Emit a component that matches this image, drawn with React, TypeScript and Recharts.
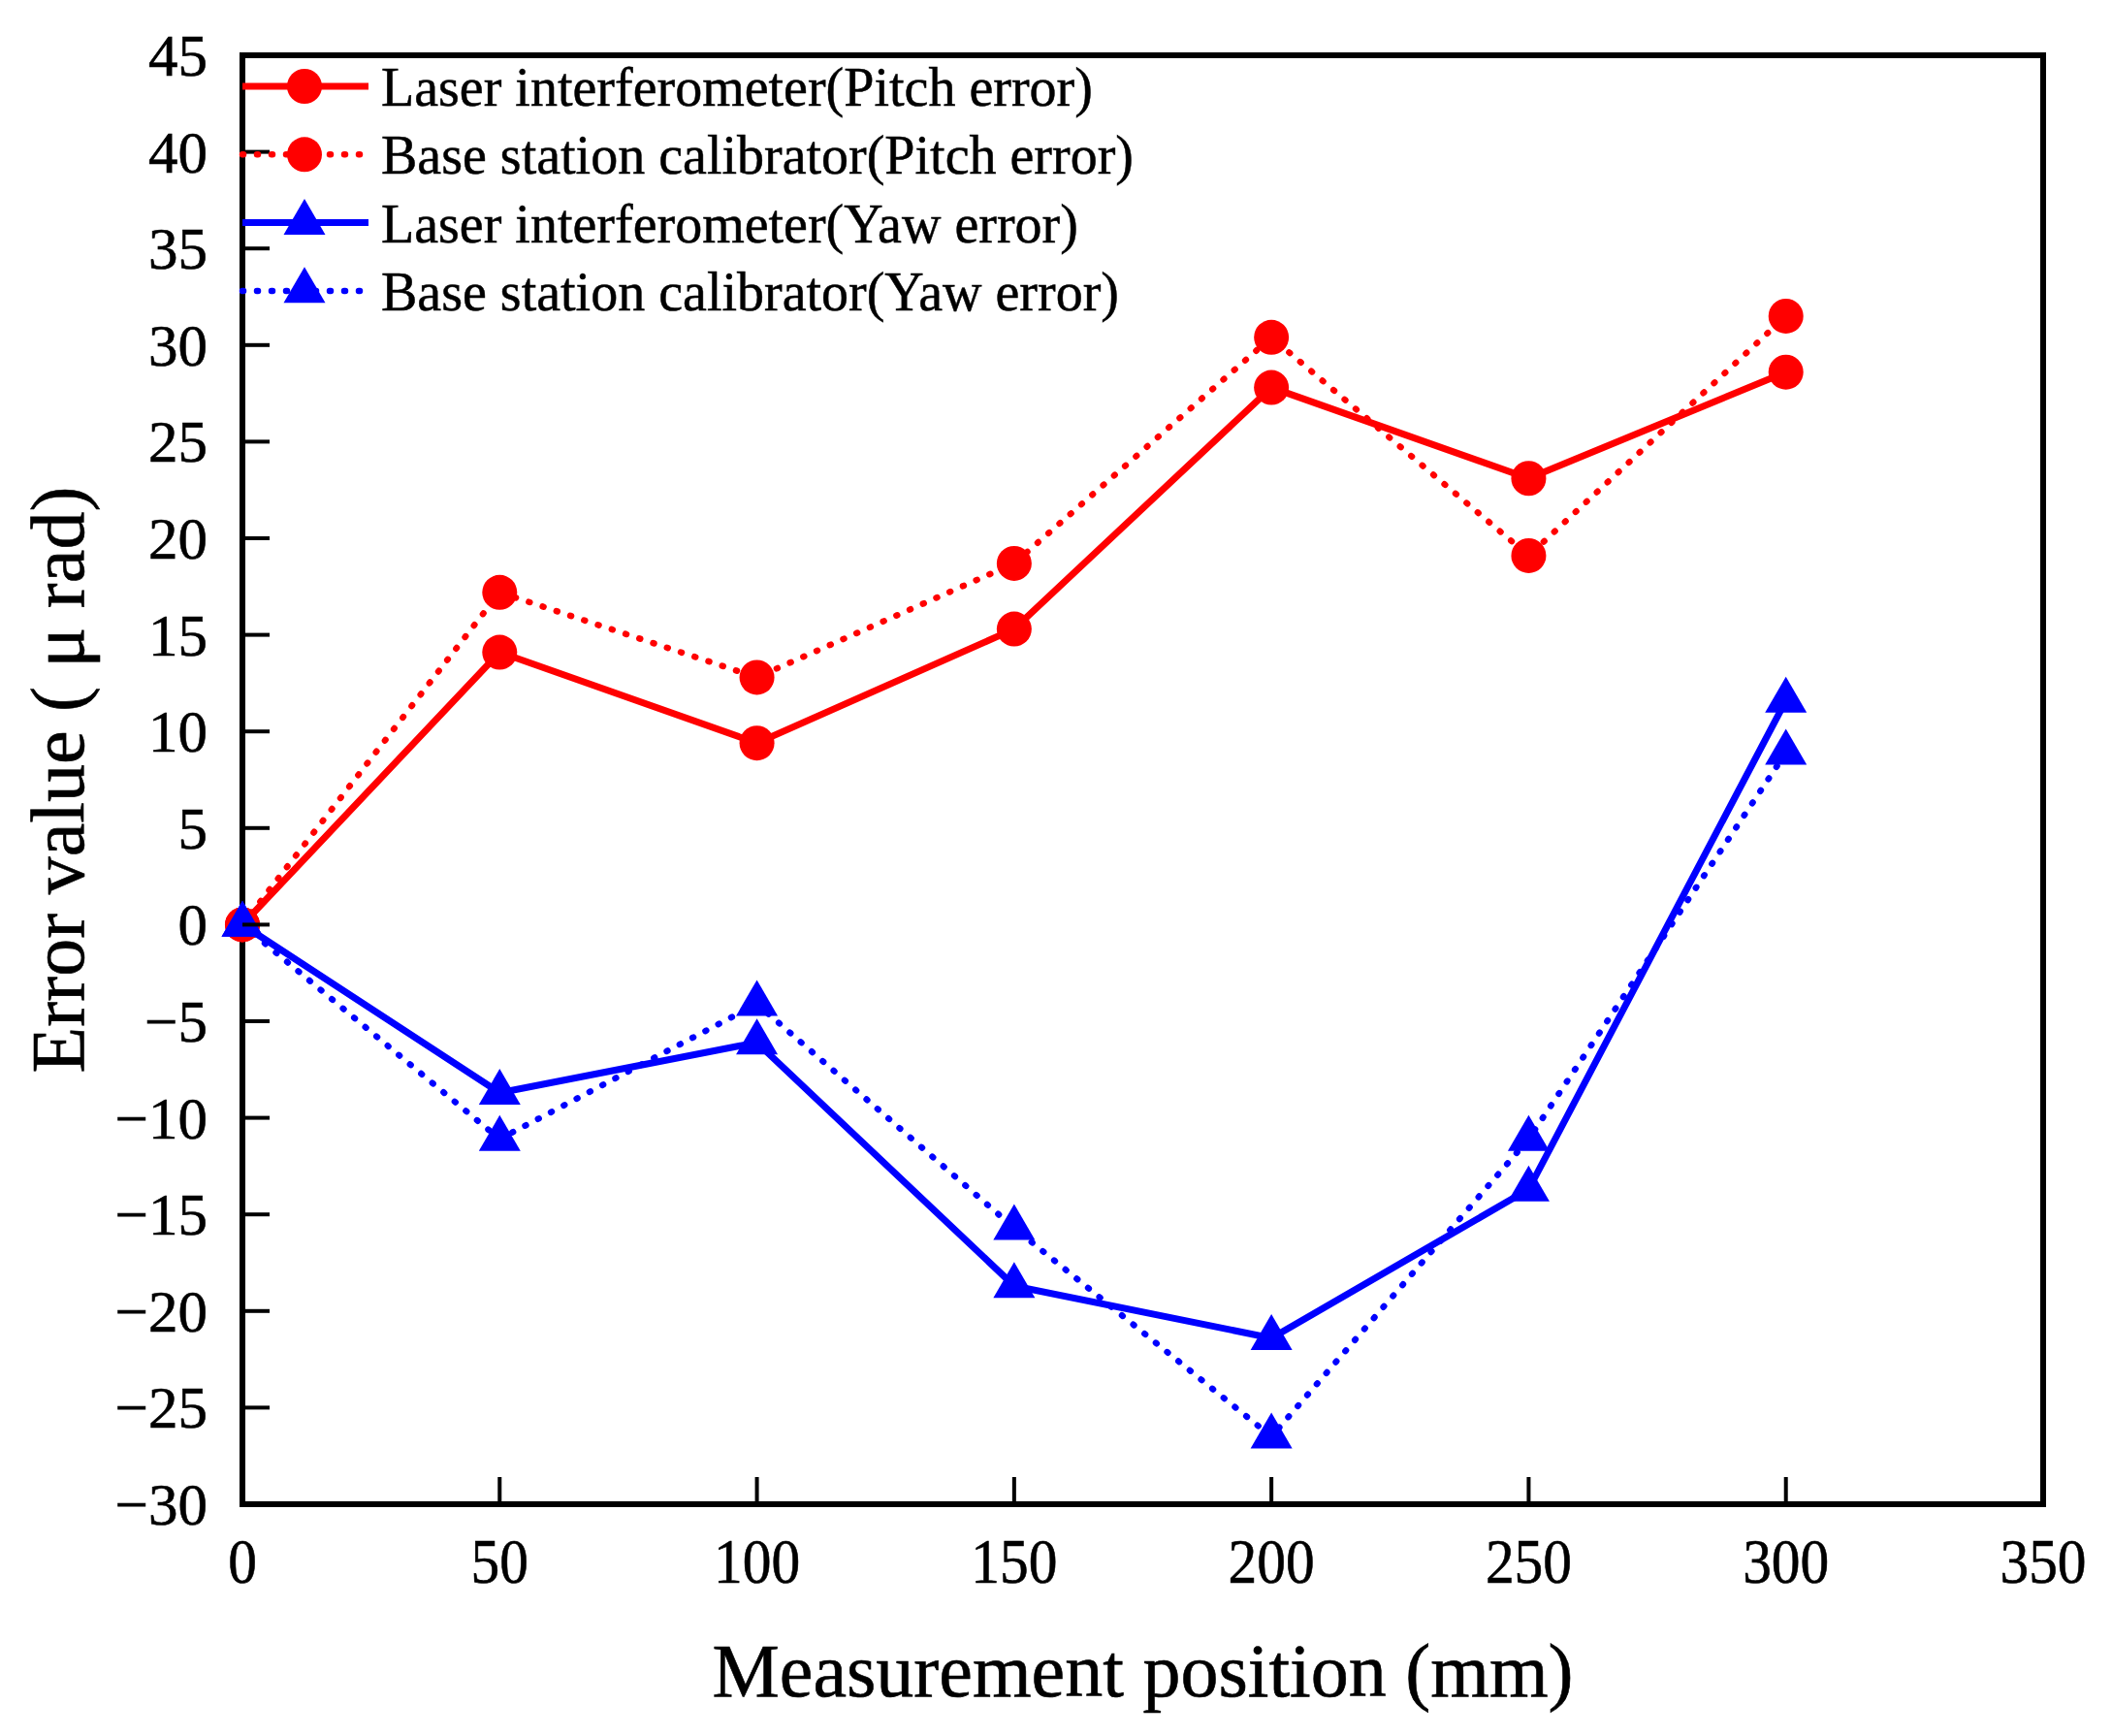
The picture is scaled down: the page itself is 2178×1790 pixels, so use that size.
import React from "react";
import { LineChart, Line, XAxis, YAxis, Legend, ReferenceArea } from "recharts";

const positions = [0, 50, 100, 150, 200, 250, 300];
const laserPitch = [0, 14.1, 9.4, 15.3, 27.8, 23.1, 28.6];
const basePitch = [0, 17.2, 12.8, 18.7, 30.4, 19.1, 31.5];
const laserYaw = [0, -8.7, -6.1, -18.7, -21.4, -13.7, 11.6];
const baseYaw = [0, -11.1, -4.1, -15.7, -26.5, -11.1, 8.9];

const xTicks = [0, 50, 100, 150, 200, 250, 300, 350];
const yTicks = [-30, -25, -20, -15, -10, -5, 0, 5, 10, 15, 20, 25, 30, 35, 40, 45];

const RED = "#ff0000";
const BLUE = "#0000ff";
const FONT = '"Liberation Serif", "Times New Roman", serif';

const series = [
  { key: "laserPitch", name: "Laser interferometer(Pitch error)", color: RED, dotted: false, marker: "circle" },
  { key: "basePitch", name: "Base station calibrator(Pitch error)", color: RED, dotted: true, marker: "circle" },
  { key: "laserYaw", name: "Laser interferometer(Yaw error)", color: BLUE, dotted: false, marker: "triangle" },
  { key: "baseYaw", name: "Base station calibrator(Yaw error)", color: BLUE, dotted: true, marker: "triangle" },
];

const data = positions.map((pos, i) => ({
  pos,
  laserPitch: laserPitch[i],
  basePitch: basePitch[i],
  laserYaw: laserYaw[i],
  baseYaw: baseYaw[i],
}));

const fmt = (v: number) => (v < 0 ? "\u2212" + Math.abs(v) : String(v));

function Marker({ type, cx, cy, color }: any) {
  if (type === "circle") {
    return <circle cx={cx} cy={cy} r={18} fill={color} />;
  }
  const w = 43;
  const h = 37;
  const pts = `${cx},${cy - (2 * h) / 3} ${cx - w / 2},${cy + h / 3} ${cx + w / 2},${cy + h / 3}`;
  return <polygon points={pts} fill={color} />;
}

const makeDot = (type: string, color: string) => (props: any) => (
  <g key={`${props.dataKey}-${props.index}`}>
    <Marker type={type} cx={props.cx} cy={props.cy} color={color} />
  </g>
);

const XTick = ({ x, y, payload }: any) => (
  <g>
    <line x1={x} x2={x} y1={y} y2={y - 28} stroke="#000" strokeWidth={4} />
    <text
      transform={`translate(${x},${y + 81}) scale(0.9,1)`}
      textAnchor="middle"
      fontFamily={FONT}
      fontSize={66}
      fill="#000"
      stroke="#000"
      strokeWidth={0.6}
    >
      {fmt(payload.value)}
    </text>
  </g>
);

const YTick = ({ x, y, payload }: any) => (
  <g>
    <line x1={x} x2={x + 28} y1={y} y2={y} stroke="#000" strokeWidth={4} />
    <text
      x={x - 36}
      y={y + 21}
      textAnchor="end"
      fontFamily={FONT}
      fontSize={61}
      fill="#000"
      stroke="#000"
      strokeWidth={0.6}
    >
      {fmt(payload.value)}
    </text>
  </g>
);

const XTitle = ({ viewBox }: any) => (
  <text
    x={viewBox.x + viewBox.width / 2}
    y={viewBox.y + 198}
    textAnchor="middle"
    fontFamily={FONT}
    fontSize={78}
    fill="#000"
    stroke="#000"
    strokeWidth={0.6}
  >
    Measurement position (mm)
  </text>
);

const YTitle = ({ viewBox }: any) => (
  <text
    transform={`translate(${viewBox.x + 86},${viewBox.y + viewBox.height / 2}) rotate(-90)`}
    textAnchor="middle"
    fontFamily={FONT}
    fontSize={78}
    fill="#000"
    stroke="#000"
    strokeWidth={0.6}
  >
    Error value ( μ rad)
  </text>
);

const LegendBox = () => (
  <svg width={1200} height={340} style={{ display: "block" }}>
    {series.map((s, i) => {
      const y = 89 + i * 70.3;
      return (
        <g key={s.key}>
          <line
            x1={250}
            x2={380}
            y1={y}
            y2={y}
            stroke={s.color}
            strokeWidth={s.dotted ? 6.5 : 7}
            strokeDasharray={s.dotted ? "1 14" : undefined}
            strokeLinecap={s.dotted ? "round" : "butt"}
          />
          <Marker type={s.marker} cx={314} cy={y} color={s.color} />
          <text x={393} y={y + 20} fontFamily={FONT} fontSize={56} fill="#000" stroke="#000" strokeWidth={0.5}>
            {s.name}
          </text>
        </g>
      );
    })}
  </svg>
);

export default function App() {
  return (
    <div style={{ position: "absolute", left: 0, top: 0, width: 2178, height: 1790, background: "#fff" }}>
      <LineChart width={2178} height={1790} data={data} margin={{ top: 57, right: 71, left: 0, bottom: 0 }}>
        <XAxis
          dataKey="pos"
          type="number"
          domain={[0, 350]}
          ticks={xTicks}
          interval={0}
          height={239}
          axisLine={false}
          tickLine={false}
          tickSize={0}
          tickMargin={0}
          tick={XTick}
          label={{ content: XTitle }}
        />
        <YAxis
          type="number"
          domain={[-30, 45]}
          ticks={yTicks}
          interval={0}
          width={250}
          axisLine={false}
          tickLine={false}
          tickSize={0}
          tickMargin={0}
          tick={YTick}
          label={{ content: YTitle }}
          allowDataOverflow
        />
        <ReferenceArea
          x1={0}
          x2={350}
          y1={-30}
          y2={45}
          fill="none"
          stroke="#000"
          strokeWidth={6}
          ifOverflow="visible"
        />
        {series.map((s) => (
          <Line
            key={s.key}
            dataKey={s.key}
            name={s.name}
            type="linear"
            stroke={s.color}
            strokeWidth={s.dotted ? 6.5 : 7}
            strokeDasharray={s.dotted ? "1 14" : undefined}
            strokeLinecap={s.dotted ? "round" : "butt"}
            dot={makeDot(s.marker, s.color)}
            activeDot={false}
            isAnimationActive={false}
          />
        ))}
        <Legend
          layout="vertical"
          align="center"
          verticalAlign="middle"
          wrapperStyle={{ left: 0, top: 0, width: 1200, height: 340 }}
          content={LegendBox}
        />
      </LineChart>
    </div>
  );
}
